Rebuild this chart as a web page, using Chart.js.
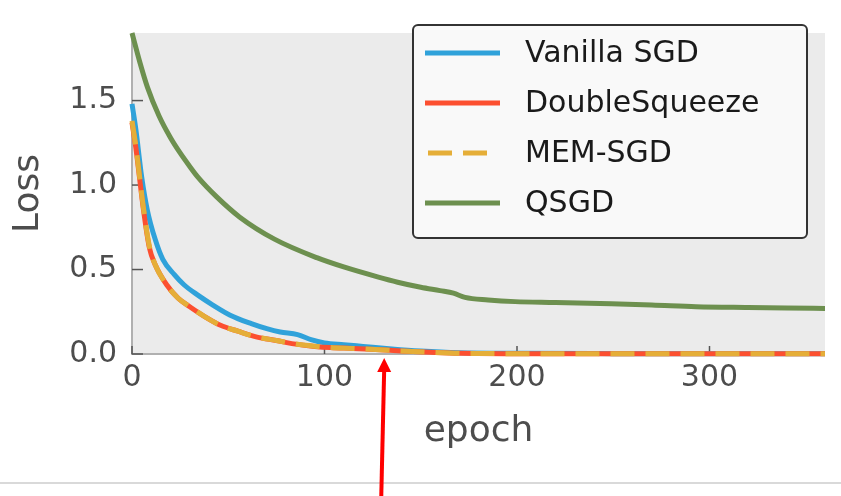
<!DOCTYPE html>
<html lang="en">
<head>
  <meta charset="UTF-8" />
  <title>Loss vs epoch</title>
  <script src="https://cdn.jsdelivr.net/npm/chart.js"></script>
  <style>
    html, body { margin: 0; padding: 0; background: #ffffff; }
    #wrap { width: 841px; height: 496px; position: relative; }
  </style>
</head>
<body>
  <div id="wrap"><canvas id="lossChart"></canvas></div>

  <script>
    // values
    const seriesNames = ["Vanilla SGD", "DoubleSqueeze", "MEM-SGD", "QSGD"];

    const sgdEpochs = [0, 2, 5, 8, 12, 16, 22, 27, 34, 42, 51, 62, 70, 77, 86, 93, 100, 110, 120, 135, 150, 170, 200, 250, 300, 360];
    const sgdLoss   = [1.48, 1.33, 1.05, 0.85, 0.68, 0.56, 0.47, 0.41, 0.35, 0.29, 0.23, 0.18, 0.15, 0.13, 0.115, 0.085, 0.066, 0.055, 0.045, 0.03, 0.018, 0.008, 0.004, 0.002, 0.001, 0.001];

    const dsEpochs = [0, 2, 6, 9, 12, 18, 24, 30, 38, 46, 55, 65, 75, 84, 95, 103, 115, 124, 140, 155, 170, 200, 250, 300, 360];
    const dsLoss   = [1.37, 1.22, 0.85, 0.63, 0.53, 0.41, 0.33, 0.28, 0.22, 0.17, 0.135, 0.10, 0.08, 0.06, 0.045, 0.038, 0.033, 0.028, 0.018, 0.01, 0.004, 0.002, 0.001, 0.001, 0.001];

    const memEpochs = [0, 2, 6, 9, 12, 18, 24, 30, 38, 46, 55, 65, 75, 84, 95, 103, 115, 124, 140, 155, 170, 200, 250, 300, 360];
    const memLoss   = [1.38, 1.23, 0.86, 0.64, 0.53, 0.41, 0.33, 0.28, 0.22, 0.17, 0.135, 0.10, 0.08, 0.061, 0.046, 0.038, 0.033, 0.028, 0.018, 0.01, 0.004, 0.002, 0.001, 0.001, 0.001];

    const qsgdEpochs = [0, 4, 8, 14, 20, 25, 30, 34, 44, 56, 74, 96, 110, 128, 138, 150, 160, 167, 173, 185, 199, 220, 249, 270, 293, 320, 340, 360];
    const qsgdLoss   = [1.90, 1.73, 1.58, 1.41, 1.28, 1.19, 1.11, 1.05, 0.93, 0.81, 0.68, 0.57, 0.515, 0.455, 0.425, 0.395, 0.375, 0.36, 0.335, 0.32, 0.31, 0.305, 0.297, 0.29, 0.28, 0.275, 0.272, 0.27];

    const xTicks = [0, 100, 200, 300];
    const yTicks = [0, 0.5, 1.0, 1.5];
    const xMax = 360;
    const yMax = 1.9;

    const colors = ["#30a2da", "#fc4f30", "#e5ae38", "#6d904f"];
    const FONT = "'DejaVu Sans', sans-serif";

    function toPoints(xs, ys) {
      return xs.map((x, i) => ({ x: x, y: ys[i] }));
    }

    // background, spines, inward ticks, legend box, page decorations
    const decorPlugin = {
      id: "decor",
      beforeDraw(chart) {
        const { ctx, chartArea: a } = chart;
        ctx.save();
        ctx.fillStyle = "#ebebeb";
        ctx.fillRect(a.left, a.top, a.right - a.left, a.bottom - a.top);
        ctx.restore();
      },
      beforeDatasetsDraw(chart) {
        const { ctx, chartArea: a, scales } = chart;
        ctx.save();
        ctx.strokeStyle = "#b0b0b0";
        ctx.lineWidth = 2;
        ctx.beginPath();
        ctx.moveTo(a.left, a.top);
        ctx.lineTo(a.left, a.bottom);
        ctx.lineTo(a.right, a.bottom);
        ctx.stroke();
        ctx.strokeStyle = "#555555";
        ctx.lineWidth = 1.5;
        yTicks.forEach(v => {
          const py = scales.y.getPixelForValue(v);
          ctx.beginPath();
          ctx.moveTo(a.left, py);
          ctx.lineTo(a.left + 11, py);
          ctx.stroke();
        });
        xTicks.forEach(v => {
          const px = scales.x.getPixelForValue(v);
          ctx.beginPath();
          ctx.moveTo(px, a.bottom);
          ctx.lineTo(px, a.bottom - 8);
          ctx.stroke();
        });
        ctx.restore();
      },
      afterDraw(chart) {
        const { ctx, scales } = chart;
        ctx.save();

        // legend
        const bx = 413, by = 25, bw = 394, bh = 213;
        ctx.fillStyle = "#f9f9f9";
        ctx.strokeStyle = "#333333";
        ctx.lineWidth = 2;
        ctx.beginPath();
        ctx.roundRect(bx, by, bw, bh, 5);
        ctx.fill();
        ctx.stroke();
        chart.data.datasets.forEach((ds, i) => {
          const y = 53 + i * 50;
          ctx.strokeStyle = ds.borderColor;
          ctx.lineWidth = 5;
          ctx.setLineDash(ds.borderDash || []);
          ctx.beginPath();
          if (ds.borderDash) {
            ctx.moveTo(428, y);
            ctx.lineTo(490, y);
          } else {
            ctx.moveTo(425, y);
            ctx.lineTo(500, y);
          }
          ctx.stroke();
          ctx.setLineDash([]);
          ctx.fillStyle = "#1a1a1a";
          ctx.font = "30px " + FONT;
          ctx.textBaseline = "middle";
          ctx.textAlign = "left";
          ctx.fillText(ds.label, 525, y + 1);
        });

        // page separator
        ctx.strokeStyle = "#cccccc";
        ctx.lineWidth = 1.5;
        ctx.beginPath();
        ctx.moveTo(0, 483);
        ctx.lineTo(841, 483);
        ctx.stroke();

        // red arrow pointing at the curves
        const tipX = scales.x.getPixelForValue(131);
        const tipY = scales.y.bottom + 4;
        ctx.strokeStyle = "#ff0000";
        ctx.fillStyle = "#ff0000";
        ctx.lineWidth = 4;
        ctx.beginPath();
        ctx.moveTo(tipX - 3, 500);
        ctx.lineTo(tipX, tipY + 12);
        ctx.stroke();
        ctx.beginPath();
        ctx.moveTo(tipX, tipY);
        ctx.lineTo(tipX - 7, tipY + 14);
        ctx.lineTo(tipX + 7, tipY + 14);
        ctx.closePath();
        ctx.fill();

        ctx.restore();
      }
    };

    const ctx = document.getElementById("lossChart").getContext("2d");
    const lossChart = new Chart(ctx, {
      type: "line",
      data: {
        datasets: [
          {
            label: seriesNames[0],
            data: toPoints(sgdEpochs, sgdLoss),
            borderColor: colors[0],
            borderWidth: 5,
            order: 3
          },
          {
            label: seriesNames[1],
            data: toPoints(dsEpochs, dsLoss),
            borderColor: colors[1],
            borderWidth: 5,
            order: 2
          },
          {
            label: seriesNames[2],
            data: toPoints(memEpochs, memLoss),
            borderColor: colors[2],
            borderWidth: 5,
            borderDash: [24, 11],
            order: 1
          },
          {
            label: seriesNames[3],
            data: toPoints(qsgdEpochs, qsgdLoss),
            borderColor: colors[3],
            borderWidth: 5,
            order: 0
          }
        ]
      },
      options: {
        responsive: true,
        maintainAspectRatio: false,
        animation: false,
        datasets: {
          line: {
            pointRadius: 0,
            fill: false,
            cubicInterpolationMode: "monotone",
            clip: 6
          }
        },
        layout: { padding: { top: 8, right: 16, left: 0, bottom: 0 } },
        plugins: {
          legend: { display: false },
          tooltip: { enabled: false }
        },
        scales: {
          x: {
            type: "linear",
            min: 0,
            max: xMax,
            grid: { display: false, drawTicks: false },
            border: { display: false },
            afterFit(scale) { scale.height = 142; },
            afterBuildTicks(scale) { scale.ticks = xTicks.map(v => ({ value: v })); },
            ticks: {
              padding: 6,
              color: "#4d4d4d",
              font: { family: FONT, size: 30 },
              maxRotation: 0,
              callback: v => String(v)
            },
            title: {
              display: true,
              text: "epoch",
              color: "#4d4d4d",
              font: { family: FONT, size: 36 },
              padding: { top: 0, bottom: 43 }
            }
          },
          y: {
            min: 0,
            max: yMax,
            grid: { display: false, drawTicks: false },
            border: { display: false },
            afterFit(scale) { scale.width = 132; },
            afterBuildTicks(scale) { scale.ticks = yTicks.map(v => ({ value: v })); },
            ticks: {
              padding: 15,
              color: "#4d4d4d",
              font: { family: FONT, size: 30 },
              callback: v => v.toFixed(1)
            },
            title: {
              display: true,
              text: "Loss",
              color: "#4d4d4d",
              font: { family: FONT, size: 36 },
              padding: { top: 7, bottom: 0 }
            }
          }
        }
      },
      plugins: [decorPlugin]
    });
  </script>
</body>
</html>
